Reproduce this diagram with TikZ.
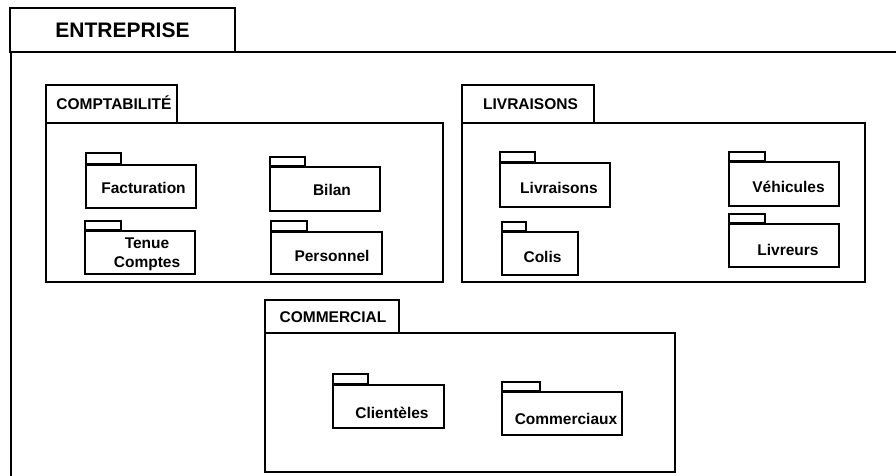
\documentclass[tikz,border=0pt]{standalone}
\usepackage{fontspec}
\setmainfont{Liberation Sans}
\usepackage{tikz}

\tikzset{
  pk/.style={line width=2.6pt,fill=white},
  tabline/.style={line width=3.8pt},
  lbl/.style={font=\bfseries\fontsize{15.5}{19}\selectfont,align=center,inner sep=0pt},
  big/.style={font=\bfseries\fontsize{21}{24}\selectfont,inner sep=0pt}
}

\begin{document}
\begin{tikzpicture}[x=1pt,y=-1pt]
  \useasboundingbox (0,0) rectangle (896,476);
  % entreprise
  \draw[pk] (10,8) rectangle (235,52);
  \draw[line width=2.6pt] (10,52) -- (896,52);
  \draw[line width=2.6pt] (11,52) -- (11,476);
  \node[big] (entr) at (122.5,30) {ENTREPRISE};

  % comptabilite
  \draw[pk] (46,85) rectangle (177,123);
  \draw[pk] (46,123) rectangle (443,282);
  \node[lbl] (compta) at (114,103) {COMPTABILIT\'E};
  \draw[pk] (86,153) rectangle ++(35,12);
  \draw[tabline] (86,165) -- ++(35,0);
  \draw[pk] (86,165) rectangle (196,208);
  \node[lbl] (fact) at (143.5,188) {Facturation};
  \draw[pk] (270,157) rectangle ++(35,10);
  \draw[tabline] (270,167) -- ++(35,0);
  \draw[pk] (270,167) rectangle (380,211);
  \node[lbl] (bilan) at (332,190) {Bilan};
  \draw[pk] (85,221) rectangle ++(36,10);
  \draw[tabline] (85,231) -- ++(36,0);
  \draw[pk] (85,231) rectangle (195,274);
  \node[lbl] (tenue) at (147,254.5) {Tenue\\Comptes};
  \draw[pk] (271,221) rectangle ++(36,11);
  \draw[tabline] (271,232) -- ++(36,0);
  \draw[pk] (271,232) rectangle (382,274);
  \node[lbl] (pers) at (332,256) {Personnel};

  % livraisons
  \draw[pk] (462,85) rectangle (594,123);
  \draw[pk] (462,123) rectangle (865,282);
  \node[lbl] (livr) at (530.5,104) {LIVRAISONS};
  \draw[pk] (500,152) rectangle ++(35,11);
  \draw[tabline] (500,163) -- ++(35,0);
  \draw[pk] (500,163) rectangle (610,207);
  \node[lbl] (livrs) at (559,188) {Livraisons};
  \draw[pk] (502,222) rectangle ++(24,10);
  \draw[tabline] (502,232) -- ++(24,0);
  \draw[pk] (502,232) rectangle (578,275);
  \node[lbl] (colis) at (542.5,257) {Colis};
  \draw[pk] (729,152) rectangle ++(36,10);
  \draw[tabline] (729,162) -- ++(36,0);
  \draw[pk] (729,162) rectangle (839,206);
  \node[lbl] (vehic) at (788.5,187) {V\'ehicules};
  \draw[pk] (729,214) rectangle ++(36,10);
  \draw[tabline] (729,224) -- ++(36,0);
  \draw[pk] (729,224) rectangle (839,267);
  \node[lbl] (livreurs) at (788,250) {Livreurs};

  % commercial
  \draw[pk] (265,300) rectangle (399,333);
  \draw[pk] (265,333) rectangle (675,472);
  \node[lbl] (comm) at (333,317) {COMMERCIAL};
  \draw[pk] (333,374) rectangle ++(35,11);
  \draw[tabline] (333,385) -- ++(35,0);
  \draw[pk] (333,385) rectangle (444,428);
  \node[lbl] (client) at (392,413) {Client\`eles};
  \draw[pk] (502,382) rectangle ++(38,10);
  \draw[tabline] (502,392) -- ++(38,0);
  \draw[pk] (502,392) rectangle (622,435);
  \node[lbl] (commx) at (566,419) {Commerciaux};
\end{tikzpicture}
\end{document}
